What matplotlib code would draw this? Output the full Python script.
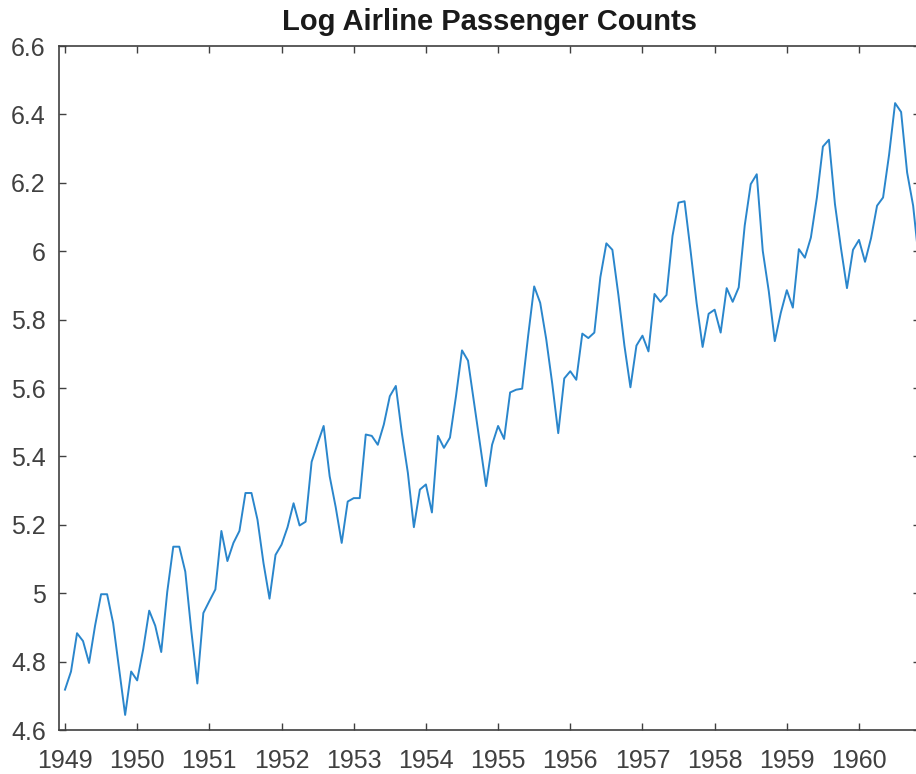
import numpy as np
import matplotlib
matplotlib.use('Agg')
import matplotlib.pyplot as plt
from matplotlib.ticker import FixedLocator, FuncFormatter

# Log of monthly airline passenger counts, Jan 1949 - Dec 1960
log_passengers = [
    4.718, 4.771, 4.883, 4.860, 4.796, 4.905, 4.997, 4.997, 4.913, 4.779, 4.644, 4.771,  # 1949
    4.745, 4.836, 4.949, 4.905, 4.828, 5.004, 5.136, 5.136, 5.063, 4.890, 4.736, 4.942,  # 1950
    4.977, 5.011, 5.182, 5.094, 5.147, 5.182, 5.293, 5.293, 5.215, 5.088, 4.984, 5.112,  # 1951
    5.142, 5.193, 5.263, 5.198, 5.209, 5.384, 5.438, 5.489, 5.342, 5.252, 5.147, 5.268,  # 1952
    5.278, 5.278, 5.464, 5.460, 5.434, 5.493, 5.576, 5.606, 5.468, 5.352, 5.193, 5.303,  # 1953
    5.318, 5.236, 5.460, 5.425, 5.455, 5.576, 5.710, 5.680, 5.557, 5.434, 5.313, 5.434,  # 1954
    5.489, 5.451, 5.587, 5.595, 5.598, 5.753, 5.897, 5.849, 5.743, 5.613, 5.468, 5.628,  # 1955
    5.649, 5.624, 5.759, 5.746, 5.762, 5.924, 6.023, 6.004, 5.872, 5.724, 5.602, 5.724,  # 1956
    5.753, 5.707, 5.875, 5.852, 5.872, 6.045, 6.142, 6.146, 6.001, 5.849, 5.720, 5.817,  # 1957
    5.829, 5.762, 5.892, 5.852, 5.894, 6.075, 6.196, 6.225, 6.001, 5.883, 5.737, 5.820,  # 1958
    5.886, 5.835, 6.006, 5.981, 6.040, 6.157, 6.306, 6.326, 6.138, 6.009, 5.892, 6.004,  # 1959
    6.033, 5.969, 6.038, 6.133, 6.157, 6.282, 6.433, 6.407, 6.230, 6.133, 5.966, 6.068,  # 1960
]
start_year = 1949
year_ticks = list(range(1949, 1961))
y_ticks = [4.6, 4.8, 5.0, 5.2, 5.4, 5.6, 5.8, 6.0, 6.2, 6.4, 6.6]

# decimal year for each month
t = start_year + np.arange(len(log_passengers)) / 12.0

plt.rcParams['font.family'] = ['Liberation Sans', 'DejaVu Sans']
axis_color = '#404040'
text_color = '#404040'

fig = plt.figure(figsize=(9.16, 7.74), dpi=100)
# right edge of the axes falls just outside the image, like the cropped original
ax = fig.add_axes([59 / 916, 44 / 774, 861 / 916, 684 / 774])

ax.plot(t, log_passengers, color='#2a86cc', linewidth=1.4)

ax.set_xlim(1948.917, 1960.845)
ax.set_ylim(4.6, 6.6)
ax.xaxis.set_major_locator(FixedLocator(year_ticks))
ax.yaxis.set_major_locator(FixedLocator(y_ticks))
ax.xaxis.set_major_formatter(FuncFormatter(lambda v, p: f'{int(round(v))}'))
ax.yaxis.set_major_formatter(FuncFormatter(lambda v, p: f'{v:g}'))

ax.tick_params(direction='in', length=5, width=1.0, colors=axis_color,
               labelcolor=text_color, labelsize=18,
               top=True, right=True)
ax.tick_params(axis='x', pad=14)
ax.tick_params(axis='y', pad=9.5)
for s in ax.spines.values():
    s.set_color(axis_color)
    s.set_linewidth(1.2)

ax.set_title('Log Airline Passenger Counts', fontsize=21, fontweight='bold',
             color='#1a1a1a', pad=11.5)

fig.savefig('out.png', dpi=100)
